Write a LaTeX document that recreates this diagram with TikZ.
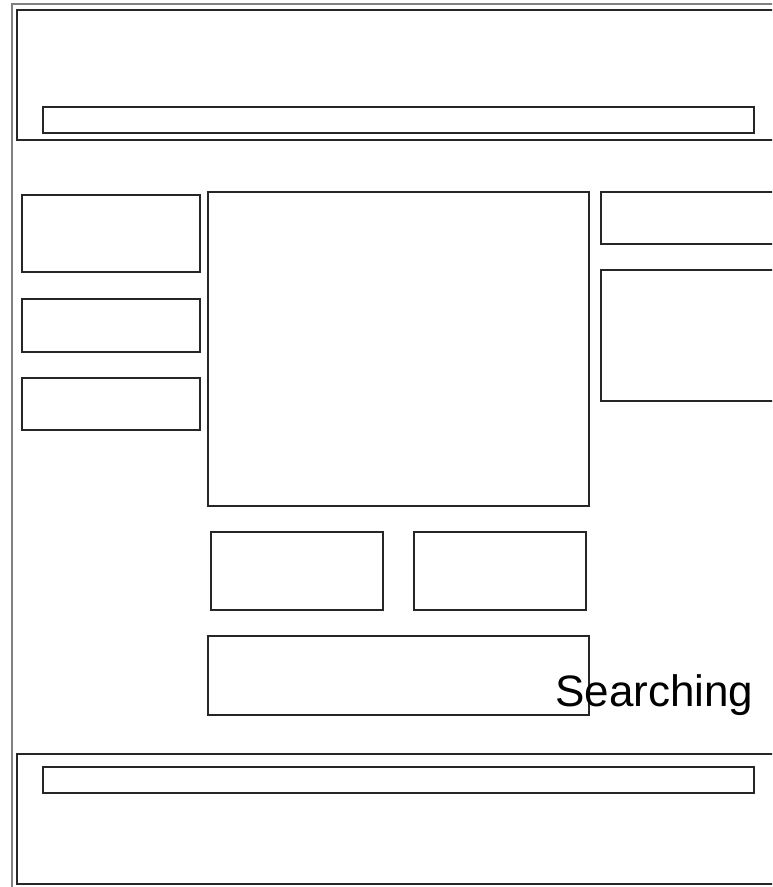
\documentclass[tikz,border=0pt]{standalone}
\usepackage{fontspec}
\setmainfont{Liberation Sans}
\begin{document}
\begin{tikzpicture}[x=0.75pt,y=-0.75pt,
  panel/.style={draw=black!85,line width=1.5pt*0.75,rectangle,inner sep=0pt},
  outer/.style={draw=black!50,line width=2pt*0.75}]
\useasboundingbox (0,0) rectangle (772,887);
\clip (0,0) rectangle (772,887);
\fill[white] (0,0) rectangle (772,887);
% outer frame
\draw[outer] (12,4) rectangle (790,900);
% header
\draw[panel] (17,10) rectangle (790,140);
\draw[panel] (43,107) rectangle (754,133);
% left column
\draw[panel] (22,195) rectangle (200,272);
\draw[panel] (22,299) rectangle (200,352);
\draw[panel] (22,378) rectangle (200,430);
% center
\draw[panel] (208,192) rectangle (589,506);
\draw[panel] (211,532) rectangle (383,610);
\draw[panel] (414,532) rectangle (586,610);
\draw[panel] (208,636) rectangle (589,715);
% right column
\draw[panel] (601,192) rectangle (790,244);
\draw[panel] (601,270) rectangle (790,401);
% footer
\draw[panel] (17,754) rectangle (790,884);
\draw[panel] (43,767) rectangle (754,793);
% text
\node[anchor=base west,inner sep=0pt,font=\fontsize{33}{38}\selectfont] (searching) at (555,706) {Searching};
\end{tikzpicture}
\end{document}
